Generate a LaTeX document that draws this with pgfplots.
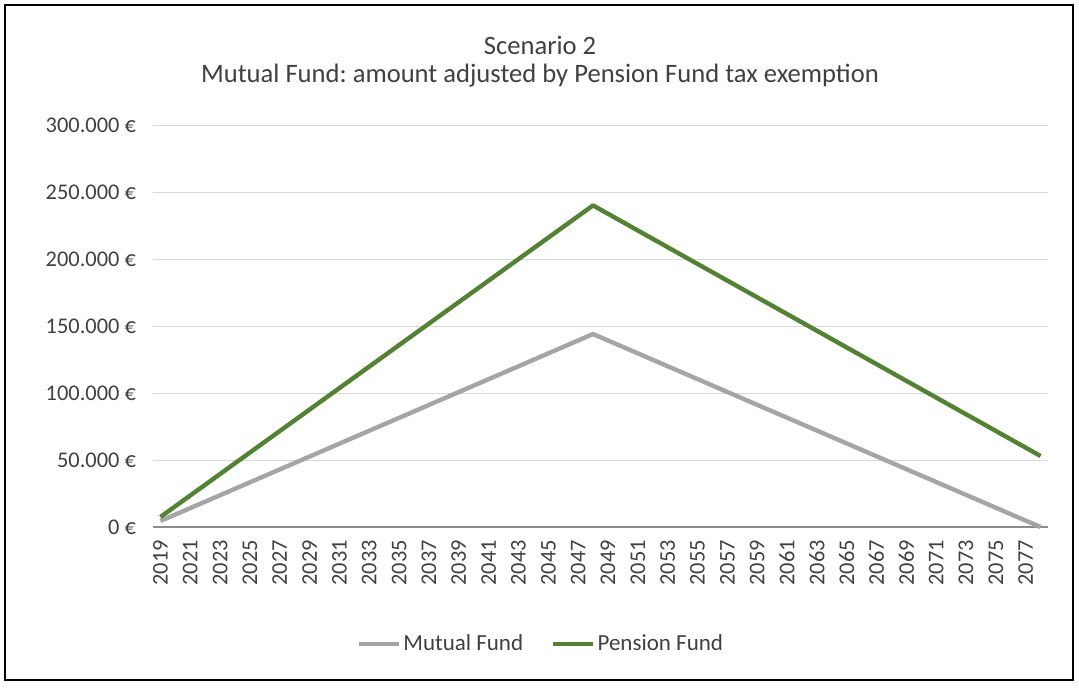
\documentclass[border=0pt]{standalone}
\usepackage{fontspec}
\setmainfont{Carlito}
\usepackage{pgfplots}
\pgfplotsset{compat=1.18}
\definecolor{mfgray}{RGB}{165,165,165}
\definecolor{pfgreen}{RGB}{84,130,53}
\definecolor{gridc}{RGB}{217,217,217}
\definecolor{txt}{RGB}{64,64,64}
\begin{document}
\frenchspacing
\begin{tikzpicture}[x=0.5pt,y=0.5pt]
\useasboundingbox (-153,-160) rectangle (926,527);
\draw[black,line width=0.7pt] (-148,-153) rectangle (920,522);
\node[text=txt,font=\fontsize{13.3}{15}\selectfont] at (387,482) {Scenario 2};
\node[text=txt,font=\fontsize{13.3}{15}\selectfont] at (387,451) {Mutual Fund: amount adjusted by Pension Fund tax exemption};
\begin{axis}[
  at={(0,0)}, anchor=origin,
  scale only axis, width=447.5pt, height=201pt,
  xmin=2018.5, xmax=2078.5, ymin=0, ymax=300000,
  xtick={2019,2021,...,2077},
  ytick={0,50000,100000,150000,200000,250000,300000},
  yticklabels={0 €,50.000 €,100.000 €,150.000 €,200.000 €,250.000 €,300.000 €},
  scaled y ticks=false, scaled x ticks=false,
  xticklabel={\pgfmathprintnumber[1000 sep={}]{\tick}},
  /pgf/number format/assume math mode=true,
  major tick length=0pt,
  ymajorgrids, grid style={gridc,line width=0.5pt},
  axis line style={draw=none},
  tick label style={text=txt,font=\fontsize{11.2}{13}\selectfont},
  yticklabel style={anchor=east,xshift=-5pt},
  xticklabel style={rotate=90,anchor=east,yshift=0pt,xshift=-3pt},
  legend style={at={(194pt,-58.5pt)},anchor=center,draw=none,fill=none,
    legend columns=2,font=\fontsize{11.5}{13}\selectfont,text=txt,
    nodes={inner xsep=1pt},
    /tikz/every even column/.append style={column sep=13pt}},
  legend image code/.code={\draw[#1] (0pt,0pt) -- (20pt,0pt);},
  clip=false,
]
\draw[gray!90,line width=0.6pt] (axis cs:2018.5,0) -- (axis cs:2078.5,0);
\addplot[mfgray,line width=2.2pt,line join=round] coordinates {(2019,4500) (2048,144000) (2078,0)};
\addlegendentry{Mutual Fund}
\addplot[pfgreen,line width=2.2pt,line join=round] coordinates {(2019,7500) (2048,240000) (2078,53000)};
\addlegendentry{Pension Fund}
\end{axis}
\end{tikzpicture}
\end{document}
